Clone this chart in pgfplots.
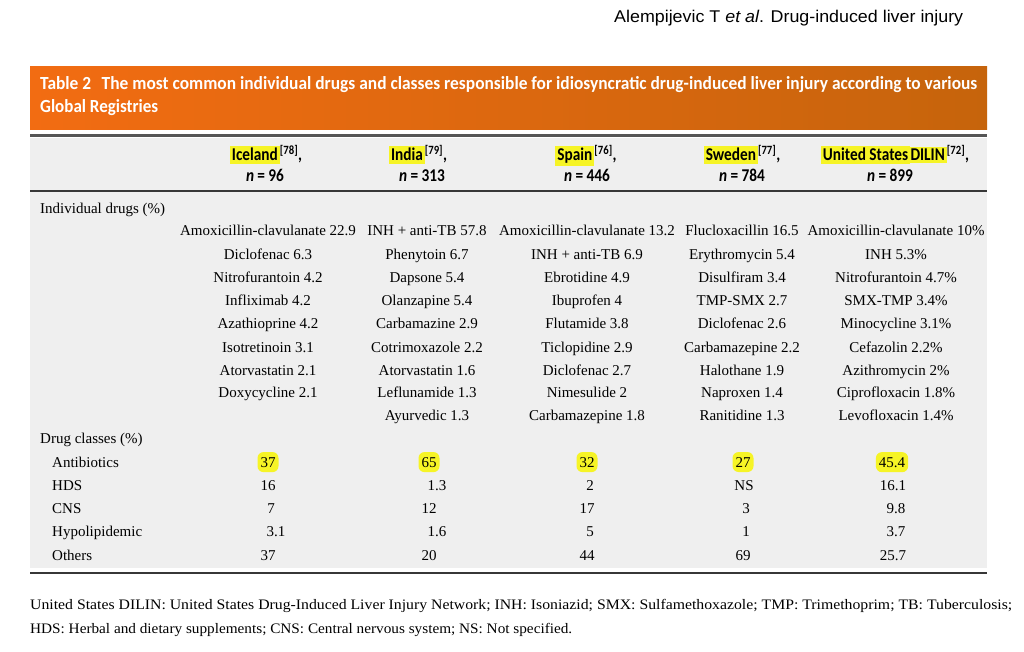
\documentclass[border=0pt]{standalone}
\usepackage{pgfplots}
\pgfplotsset{compat=1.18}
\usepackage{fontspec}
\usepackage{graphicx}
\setmainfont{Liberation Serif}
\newfontfamily\hdr{Carlito}
\newfontfamily\phdr{Liberation Sans}
\definecolor{orL}{RGB}{242,108,18}
\definecolor{orR}{RGB}{198,100,12}
\definecolor{bg}{RGB}{239,239,239}
\definecolor{rule}{RGB}{55,55,55}
\definecolor{hl}{RGB}{246,244,38}
\newcommand\cond[1]{\scalebox{0.85}[1]{#1}}
\newcommand\hlt[1]{{\setlength{\fboxsep}{2.4pt}\colorbox{hl}{#1}}}
\newcommand\hfont{\hdr\bfseries\fontsize{18}{21}\selectfont}
\newcommand\nn[1]{\textit{n}\hspace{4pt}=\hspace{4pt}#1}
\pgfplotsset{
  cell/.style={draw=none, mark=none, point meta=explicit symbolic, nodes near coords,
    every node near coord/.style={anchor=base, inner sep=0pt, font=\fontsize{15}{18}\selectfont, text=black}},
  hcell/.style={draw=none, mark=none, point meta=explicit symbolic, nodes near coords,
    every node near coord/.style={anchor=base, inner xsep=3pt, inner ysep=5pt, fill=hl, rounded corners=6pt, font=\fontsize{15}{18}\selectfont, text=black}},
}
\begin{document}
\begin{tikzpicture}
\begin{axis}[scale only axis, width=1024pt, height=652pt,
  xmin=0, xmax=1024, ymin=0, ymax=652, y dir=reverse,
  axis lines=none, clip=false, axis background/.style={fill=white}]

% running header
\node[anchor=base west, inner sep=0pt] at (axis cs:614,23)
  {\phdr\fontsize{17}{20}\selectfont\resizebox{349pt}{\height}{Alempijevic T \textit{et al}. Drug-induced liver injury}};

% title bar
\shade[left color=orL, right color=orR] (axis cs:30,67) rectangle (axis cs:987,130);
\node[anchor=base west, inner sep=0pt, text=white] at (axis cs:40,90)
  {\hdr\bfseries\fontsize{18.5}{21}\selectfont\resizebox{937pt}{\height}{Table 2\hspace{7pt} The most common individual drugs and classes responsible for idiosyncratic drug-induced liver injury according to various}};
\node[anchor=base west, inner sep=0pt, text=white] at (axis cs:40,113)
  {\hdr\bfseries\fontsize{18.5}{21}\selectfont\resizebox{118pt}{\height}{Global Registries}};

% backgrounds and rules
\fill[bg] (axis cs:30,138) rectangle (axis cs:987,190);
\fill[bg] (axis cs:30,192) rectangle (axis cs:987,568);
\draw[line width=3pt, color=rule!85] (axis cs:30,135.5) -- (axis cs:987,135.5);
\draw[line width=2pt, color=rule] (axis cs:30,191) -- (axis cs:987,191);
\draw[line width=2pt, color=rule] (axis cs:30,573) -- (axis cs:987,573);

% column headers
\node[anchor=base, inner sep=0pt] at (axis cs:266,161) {\hfont\cond{\hlt{Iceland}\textsuperscript{[78]},}};
\node[anchor=base, inner sep=0pt] at (axis cs:265,182) {\hfont\cond{\nn{96}}};
\node[anchor=base, inner sep=0pt] at (axis cs:418,161) {\hfont\cond{\hlt{India}\textsuperscript{[79]},}};
\node[anchor=base, inner sep=0pt] at (axis cs:422,182) {\hfont\cond{\nn{313}}};
\node[anchor=base, inner sep=0pt] at (axis cs:586,161) {\hfont\cond{\hlt{Spain}\textsuperscript{[76]},}};
\node[anchor=base, inner sep=0pt] at (axis cs:587,182) {\hfont\cond{\nn{446}}};
\node[anchor=base, inner sep=0pt] at (axis cs:742,161) {\hfont\cond{\hlt{Sweden}\textsuperscript{[77]},}};
\node[anchor=base, inner sep=0pt] at (axis cs:742,182) {\hfont\cond{\nn{784}}};
\node[anchor=base, inner sep=0pt] at (axis cs:895,161) {\hfont\cond{\hlt{United States}\hspace{-2pt}\hlt{DILIN}\textsuperscript{[72]},}};
\node[anchor=base, inner sep=0pt] at (axis cs:890,182) {\hfont\cond{\nn{899}}};

% row labels
\node[anchor=base west, inner sep=0pt] at (axis cs:40,214) {\fontsize{15}{18}\selectfont Individual drugs (\%)};
\node[anchor=base west, inner sep=0pt] at (axis cs:40,443) {\fontsize{15}{18}\selectfont Drug classes (\%)};
\node[anchor=base west, inner sep=0pt] at (axis cs:52,467) {\fontsize{15}{18}\selectfont Antibiotics};
\node[anchor=base west, inner sep=0pt] at (axis cs:52,490) {\fontsize{15}{18}\selectfont HDS};
\node[anchor=base west, inner sep=0pt] at (axis cs:52,513) {\fontsize{15}{18}\selectfont CNS};
\node[anchor=base west, inner sep=0pt] at (axis cs:52,536) {\fontsize{15}{18}\selectfont Hypolipidemic};
\node[anchor=base west, inner sep=0pt] at (axis cs:52,560) {\fontsize{15}{18}\selectfont Others};

% individual drugs: Iceland
\addplot[cell] table[x=x, y=y, meta=label, col sep=comma] {
x,y,label
268,236,Amoxicillin-clavulanate 22.9
268,259,Diclofenac 6.3
268,282,Nitrofurantoin 4.2
268,305,Infliximab 4.2
268,328,Azathioprine 4.2
268,352,Isotretinoin 3.1
268,375,Atorvastatin 2.1
268,397,Doxycycline 2.1
};
% India
\addplot[cell] table[x=x, y=y, meta=label, col sep=comma] {
x,y,label
427,236,INH + anti-TB 57.8
427,259,Phenytoin 6.7
427,282,Dapsone 5.4
427,305,Olanzapine 5.4
427,328,Carbamazine 2.9
427,352,Cotrimoxazole 2.2
427,375,Atorvastatin 1.6
427,397,Leflunamide 1.3
427,420,Ayurvedic 1.3
};
% Spain
\addplot[cell] table[x=x, y=y, meta=label, col sep=comma] {
x,y,label
587,236,Amoxicillin-clavulanate 13.2
587,259,INH + anti-TB 6.9
587,282,Ebrotidine 4.9
587,305,Ibuprofen 4
587,328,Flutamide 3.8
587,352,Ticlopidine 2.9
587,375,Diclofenac 2.7
587,397,Nimesulide 2
587,420,Carbamazepine 1.8
};
% Sweden
\addplot[cell] table[x=x, y=y, meta=label, col sep=comma] {
x,y,label
742,236,Flucloxacillin 16.5
742,259,Erythromycin 5.4
742,282,Disulfiram 3.4
742,305,TMP-SMX 2.7
742,328,Diclofenac 2.6
742,352,Carbamazepine 2.2
742,375,Halothane 1.9
742,397,Naproxen 1.4
742,420,Ranitidine 1.3
};
% United States DILIN
\addplot[cell] table[x=x, y=y, meta=label, col sep=comma] {
x,y,label
896,236,Amoxicillin-clavulanate 10\%
896,259,INH 5.3\%
896,282,Nitrofurantoin 4.7\%
896,305,SMX-TMP 3.4\%
896,328,Minocycline 3.1\%
896,352,Cefazolin 2.2\%
896,375,Azithromycin 2\%
896,397,Ciprofloxacin 1.8\%
896,420,Levofloxacin 1.4\%
};

% drug classes: antibiotics (highlighted)
\addplot[hcell] table[x=x, y=y, meta=label, col sep=comma] {
x,y,label
268,467,37
429,467,65
587,467,32
743,467,27
892,467,45.4
};
% other classes
\addplot[cell] table[x=x, y=y, meta=label, col sep=comma] {
x,y,label
268,490,16
437,490,1.3
590,490,2
744,490,NS
893,490,16.1
271,513,7
429,513,12
587,513,17
746,513,3
896,513,9.8
276,536,3.1
437,536,1.6
590,536,5
746,536,1
896,536,3.7
268,560,37
429,560,20
587,560,44
743,560,69
893,560,25.7
};

% footnote
\node[anchor=base west, inner sep=0pt] at (axis cs:30,609)
  {\fontsize{14.5}{17}\selectfont\resizebox{982pt}{\height}{United States DILIN: United States Drug-Induced Liver Injury Network; INH: Isoniazid; SMX: Sulfamethoxazole; TMP: Trimethoprim; TB: Tuberculosis;}};
\node[anchor=base west, inner sep=0pt] at (axis cs:30,633)
  {\fontsize{14.5}{17}\selectfont\resizebox{542pt}{\height}{HDS: Herbal and dietary supplements; CNS: Central nervous system; NS: Not specified.}};
\end{axis}
\end{tikzpicture}
\end{document}
